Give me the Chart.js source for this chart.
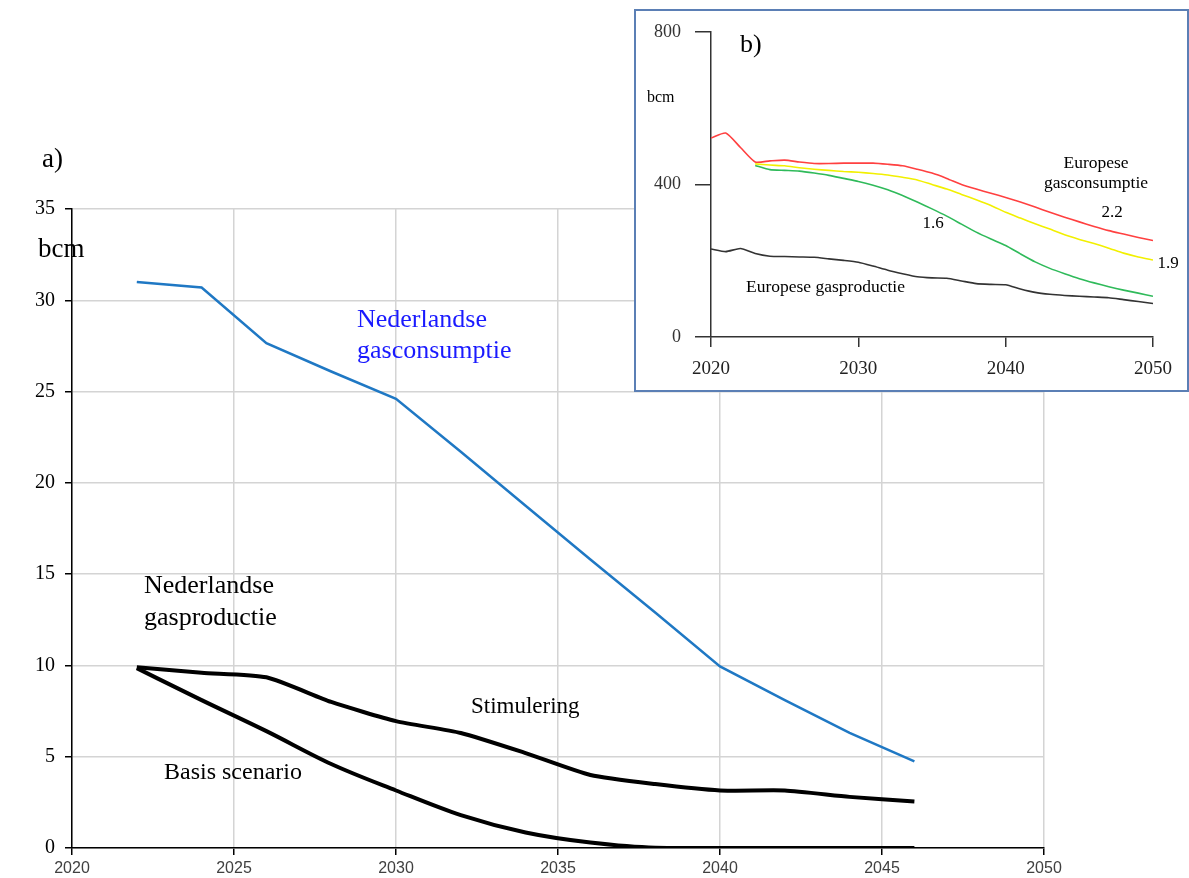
<!DOCTYPE html>
<html>
<head>
<meta charset="utf-8">
<script src="https://cdn.jsdelivr.net/npm/chart.js@4.4.1/dist/chart.umd.min.js"></script>
<style>
  body { margin: 0; background: #fff; }
  #main { position: absolute; left: 0; top: 0; }
  #inzet { position: absolute; left: 634px; top: 9px; width: 555px; height: 383px; border: 2px solid #5b7fb5; background: #fff; box-sizing: border-box; }
  #inzet canvas { position: absolute; left: 0; top: 0; }
</style>
</head>
<body>
<canvas id="main" width="1189" height="878"></canvas>
<div id="inzet"><canvas id="europa" width="551" height="379"></canvas></div>
<script>
// a) Nederland, elke 2 jaar
var jarenNL = [2022, 2024, 2026, 2028, 2030, 2032, 2034, 2036, 2038, 2040, 2042, 2044, 2046];
var consumptieNL = [31.0, 30.7, 27.65, 26.1, 24.6, 21.7, 18.75, 15.8, 12.9, 9.95, 8.1, 6.3, 4.75];
var stimulering = [9.9, 9.6, 9.35, 8.0, 6.95, 6.3, 5.2, 4.0, 3.5, 3.15, 3.15, 2.8, 2.55];
var basisScenario = [9.85, 8.1, 6.4, 4.6, 3.15, 1.8, 0.85, 0.3, 0.02, 0, 0, 0, 0];
var xTicksNL = [2020, 2050, 5];
var yTicksNL = [0, 35, 5];

// b) Europa, jaarlijks
var jarenEU = [];
for (var j = 2020; j <= 2050; j++) jarenEU.push(j);
var consumptie22 = [522, 535, 497, 459, 462, 464, 459, 455, 455, 456, 456, 456, 453, 449, 440, 430, 416, 400, 388, 377, 366, 354, 341, 327, 314, 302, 290, 279, 270, 261, 253];
var consumptie19 = [null, null, null, 454, 451, 449, 444, 440, 437, 434, 432, 429, 425, 419, 412, 400, 388, 374, 360, 345, 327, 312, 297, 283, 268, 256, 245, 233, 220, 210, 202];
var consumptie16 = [null, null, null, 450, 439, 437, 435, 430, 424, 416, 408, 398, 386, 371, 354, 336, 317, 296, 275, 257, 240, 218, 197, 180, 166, 153, 142, 132, 123, 115, 107];
var productieEU = [231, 224, 232, 219, 212, 211, 210, 209, 205, 201, 196, 186, 175, 166, 158, 155, 154, 147, 140, 138, 137, 126, 117, 112, 109, 107, 105, 103, 98, 93, 88];
var xTicksEU = [2020, 2050, 10];
var yTicksEU = [0, 800, 400];

function punten(xs, ys) {
  return xs.map(function (x, i) { return { x: x, y: ys[i] }; });
}

function tekstPlugin(items) {
  return {
    id: 'teksten',
    afterDraw: function (chart) {
      var ctx = chart.ctx;
      items.forEach(function (t) {
        ctx.save();
        ctx.font = t.font;
        ctx.fillStyle = t.color || '#000';
        ctx.textAlign = t.align || 'left';
        ctx.textBaseline = t.base || 'middle';
        ctx.fillText(t.text, t.x, t.y);
        ctx.restore();
      });
    }
  };
}

var serif = '"Liberation Serif", "Times New Roman", serif';

new Chart(document.getElementById('main').getContext('2d'), {
  type: 'line',
  data: {
    datasets: [
      { data: punten(jarenNL, consumptieNL), borderColor: '#1f78c4', borderWidth: 2.5, pointRadius: 0, tension: 0 },
      { data: punten(jarenNL, stimulering), borderColor: '#000', borderWidth: 4, pointRadius: 0, tension: 0.2 },
      { data: punten(jarenNL, basisScenario), borderColor: '#000', borderWidth: 4, pointRadius: 0, cubicInterpolationMode: 'monotone' }
    ]
  },
  options: {
    responsive: false,
    animation: false,
    devicePixelRatio: 1,
    layout: { padding: { left: 0, top: 209, right: 145, bottom: 0 } },
    plugins: { legend: { display: false }, tooltip: { enabled: false } },
    scales: {
      x: {
        type: 'linear', min: xTicksNL[0], max: xTicksNL[1],
        ticks: { stepSize: xTicksNL[2], padding: 4, color: '#404040', font: { family: '"Liberation Sans", Arial, sans-serif', size: 16 }, callback: function (v) { return String(v); } },
        grid: { color: '#d4d4d4', lineWidth: 1.5, tickColor: '#000', tickLength: 7 },
        border: { color: '#000', width: 1.5 },
        afterFit: function (s) { s.height = 30; }
      },
      y: {
        min: yTicksNL[0], max: yTicksNL[1],
        ticks: { stepSize: yTicksNL[2], padding: 10, color: '#000', font: { family: serif, size: 20 } },
        grid: { color: '#d4d4d4', lineWidth: 1.5, tickColor: '#000', tickLength: 7 },
        border: { color: '#000', width: 1.5 },
        afterFit: function (s) { s.width = 72; }
      }
    }
  },
  plugins: [tekstPlugin([
    { text: 'a)', x: 42, y: 160, font: '27px ' + serif },
    { text: 'bcm', x: 38, y: 250, font: '27px ' + serif },
    { text: 'Nederlandse', x: 357, y: 327, base: 'alphabetic', font: '26px ' + serif, color: '#1a1aff' },
    { text: 'gasconsumptie', x: 357, y: 358, base: 'alphabetic', font: '26px ' + serif, color: '#1a1aff' },
    { text: 'Nederlandse', x: 144, y: 593, base: 'alphabetic', font: '26px ' + serif },
    { text: 'gasproductie', x: 144, y: 625, base: 'alphabetic', font: '26px ' + serif },
    { text: 'Stimulering', x: 471, y: 713, base: 'alphabetic', font: '23px ' + serif },
    { text: 'Basis scenario', x: 164, y: 779, base: 'alphabetic', font: '24px ' + serif }
  ])]
});

// inzet: canvas begint op (636, 11) in de pagina
new Chart(document.getElementById('europa').getContext('2d'), {
  type: 'line',
  data: {
    datasets: [
      { data: punten(jarenEU, consumptie22), borderColor: '#ff4040', borderWidth: 1.6, pointRadius: 0, tension: 0.2 },
      { data: punten(jarenEU, consumptie19), borderColor: '#f2f000', borderWidth: 1.6, pointRadius: 0, tension: 0.2 },
      { data: punten(jarenEU, consumptie16), borderColor: '#2fba5a', borderWidth: 1.6, pointRadius: 0, tension: 0.2 },
      { data: punten(jarenEU, productieEU), borderColor: '#333', borderWidth: 1.6, pointRadius: 0, tension: 0.2 }
    ]
  },
  options: {
    responsive: false,
    animation: false,
    devicePixelRatio: 1,
    layout: { padding: { left: 0, top: 21, right: 34, bottom: 0 } },
    plugins: { legend: { display: false }, tooltip: { enabled: false } },
    scales: {
      x: {
        type: 'linear', min: xTicksEU[0], max: xTicksEU[1],
        ticks: { stepSize: xTicksEU[2], padding: 11, color: '#222', font: { family: serif, size: 19 }, callback: function (v) { return String(v); } },
        grid: { drawOnChartArea: false, tickColor: '#333', tickLength: 10, lineWidth: 1.5 },
        border: { color: '#333', width: 1.5 },
        afterFit: function (s) { s.height = 53; }
      },
      y: {
        min: yTicksEU[0], max: yTicksEU[1],
        ticks: { stepSize: yTicksEU[2], padding: 14, color: '#333', font: { family: serif, size: 18 } },
        grid: { drawOnChartArea: false, tickColor: '#333', tickLength: 16, lineWidth: 1.5 },
        border: { color: '#333', width: 1.5 },
        afterFit: function (s) { s.width = 75; s.paddingTop = 0; s.paddingBottom = 0; }
      }
    }
  },
  plugins: [tekstPlugin([
    { text: 'b)', x: 740 - 636, y: 45 - 11, font: '26px ' + serif },
    { text: 'bcm', x: 647 - 636, y: 98 - 11, font: '16px ' + serif },
    { text: 'Europese', x: 1096 - 636, y: 163 - 11, align: 'center', font: '17.5px ' + serif },
    { text: 'gasconsumptie', x: 1096 - 636, y: 183 - 11, align: 'center', font: '17.5px ' + serif },
    { text: '2.2', x: 1112 - 636, y: 213 - 11, align: 'center', font: '17px ' + serif },
    { text: '1.6', x: 933 - 636, y: 224 - 11, align: 'center', font: '17px ' + serif },
    { text: '1.9', x: 1168 - 636, y: 264 - 11, align: 'center', font: '17px ' + serif },
    { text: 'Europese gasproductie', x: 746 - 636, y: 287 - 11, font: '17.5px ' + serif }
  ])]
});
</script>
</body>
</html>
